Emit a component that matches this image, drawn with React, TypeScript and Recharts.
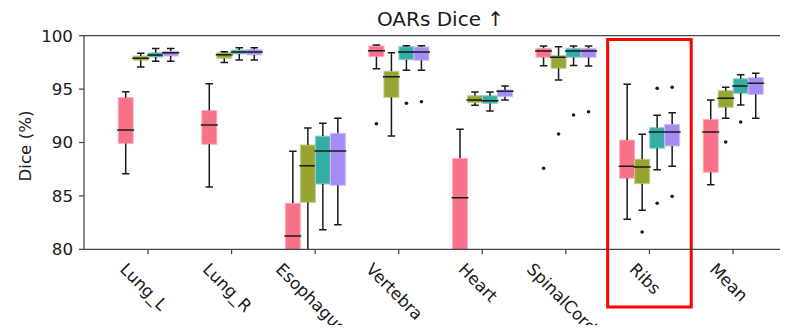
import { Bar, ComposedChart, ReferenceArea, ReferenceLine, XAxis, YAxis } from "recharts"

// organ categories
const organs = ["Lung_L", "Lung_R", "Esophagus", "Vertebra", "Heart", "SpinalCord", "Ribs", "Mean"]

// box stats per organ: [whisker low, q1, median, q3, whisker high]
const pinkStats = [
  [87.08, 89.9, 91.17, 94.2, 94.76],
  [85.83, 89.83, 91.64, 93.0, 95.5],
  [75.0, 78.0, 81.25, 84.31, 89.18],
  [96.91, 98.03, 98.6, 99.04, 99.13],
  [74.0, 78.5, 84.83, 88.52, 91.24],
  [97.19, 97.98, 98.57, 98.82, 99.04],
  [82.81, 86.65, 87.77, 90.23, 95.45],
  [86.05, 87.21, 90.98, 92.17, 93.98],
]
const oliveStats = [
  [97.07, 97.7, 97.9, 98.1, 98.35],
  [97.5, 97.9, 98.22, 98.4, 98.5],
  [78.0, 84.4, 87.83, 89.77, 91.36],
  [90.61, 94.23, 96.16, 96.67, 98.41],
  [93.48, 93.73, 93.98, 94.38, 94.73],
  [95.85, 96.95, 97.98, 98.13, 98.97],
  [83.65, 86.14, 87.71, 88.43, 90.77],
  [92.27, 93.3, 94.14, 94.85, 95.17],
]
const tealStats = [
  [97.6, 98.0, 98.2, 98.4, 98.8],
  [97.72, 98.29, 98.47, 98.66, 98.88],
  [81.84, 86.11, 89.2, 90.6, 91.8],
  [96.76, 97.75, 98.47, 98.97, 99.06],
  [92.95, 93.67, 93.92, 94.38, 94.73],
  [97.22, 97.98, 98.57, 98.82, 99.04],
  [87.45, 89.46, 90.98, 91.39, 92.55],
  [93.51, 94.6, 95.29, 95.97, 96.35],
]
const purpleStats = [
  [97.6, 98.1, 98.4, 98.54, 98.8],
  [97.72, 98.2, 98.47, 98.7, 98.88],
  [82.3, 85.99, 89.2, 90.86, 92.27],
  [96.76, 97.7, 98.47, 98.94, 99.06],
  [93.98, 94.29, 94.8, 94.92, 95.29],
  [97.16, 97.98, 98.57, 98.82, 99.04],
  [87.77, 89.67, 90.98, 91.7, 92.79],
  [92.27, 94.51, 95.54, 96.07, 96.48],
]

// outliers per organ
const pinkFliers = [[], [], [], [91.76], [], [87.58], [], []]
const oliveFliers = [[], [], [], [], [], [90.8], [81.62], [90.05]]
const tealFliers = [[], [], [], [93.67], [], [92.57], [95.07, 84.31], [91.92]]
const purpleFliers = [[], [], [], [93.82], [], [92.88], [95.17, 84.96], []]

const yTicks = [80, 85, 90, 95, 100]

const series = [
  { key: "pink", color: "#f77189", edge: "#fbb0bd", stats: pinkStats, fliers: pinkFliers },
  { key: "olive", color: "#97a431", edge: "#c6cd8e", stats: oliveStats, fliers: oliveFliers },
  { key: "teal", color: "#36ada4", edge: "#8fd2cc", stats: tealStats, fliers: tealFliers },
  { key: "purple", color: "#a48cf4", edge: "#cbbdf8", stats: purpleStats, fliers: purpleFliers },
]

const data = organs.map((name, i) => {
  const row: any = { name }
  series.forEach((s) => {
    const st = s.stats[i]
    row[s.key] = [st[0], st[4]]
    row[s.key + "Stats"] = st
    row[s.key + "Fliers"] = s.fliers[i]
  })
  return row
})

const FONT = "DejaVu Sans"
const INK = "#1a1a1a"
const SPINE = "#444"

const measure = (s: string, size: number) => {
  try {
    const ctx = document.createElement("canvas").getContext("2d")
    if (ctx) {
      ctx.font = `${size}px "${FONT}"`
      return ctx.measureText(s).width
    }
  } catch (e) {}
  return s.length * size * 0.6
}

const boxShape = (key: string, color: string, edge: string) => (props: any) => {
  const { x, y, width, height, payload } = props
  const [lo, q1, med, q3, hi] = payload[key + "Stats"]
  const fliers: number[] = payload[key + "Fliers"] || []
  const top = Math.min(y, y + height)
  const bottom = Math.max(y, y + height)
  // bar spans [lo, hi], so map other values along the same scale
  const py = (v: number) => top + ((hi - v) / (hi - lo)) * (bottom - top)
  const cx = x + width / 2
  const cap = width / 4
  const lw = 1.5
  return (
    <g>
      <rect x={x} y={py(q3)} width={width} height={py(q1) - py(q3)} fill={color} stroke={edge} strokeWidth={1} />
      <line x1={cx} x2={cx} y1={py(hi)} y2={py(q3)} stroke={INK} strokeWidth={lw} />
      <line x1={cx} x2={cx} y1={py(q1)} y2={py(lo)} stroke={INK} strokeWidth={lw} />
      <line x1={cx - cap} x2={cx + cap} y1={py(hi)} y2={py(hi)} stroke={INK} strokeWidth={lw} />
      <line x1={cx - cap} x2={cx + cap} y1={py(lo)} y2={py(lo)} stroke={INK} strokeWidth={lw} />
      <line x1={x - 1} x2={x + width + 1} y1={py(med)} y2={py(med)} stroke={INK} strokeWidth={lw} />
      {fliers.map((f, i) => (
        <circle key={i} cx={cx} cy={py(f)} r={1.8} fill={INK} />
      ))}
    </g>
  )
}

const XTick = (props: any) => {
  const { x, y, payload } = props
  const label = String(payload.value)
  const size = 16.7
  const L = measure(label, size)
  const sx = x - 0.3535 * L - 8.3
  const sy = y + 16
  return (
    <text x={sx} y={sy} transform={`rotate(45 ${sx} ${sy})`} fontSize={size} fontFamily={FONT} fill={INK} textAnchor="start">
      {label}
    </text>
  )
}

export default function App() {
  return (
    <div style={{ margin: -8, width: 788, height: 333, overflow: "hidden", position: "relative", background: "#fff" }}>
      <ComposedChart
        width={800}
        height={333}
        data={data}
        barSize={15}
        barGap={0}
        margin={{ top: 35.7, right: 3, bottom: 0, left: 0 }}
        style={{ fontFamily: FONT }}
      >
        <XAxis
          dataKey="name"
          type="category"
          interval={0}
          height={83.7}
          padding={{ left: 22.2, right: 22.2 }}
          tickSize={5}
          tickMargin={0}
          tick={<XTick />}
          axisLine={{ stroke: SPINE, strokeWidth: 1.25 }}
          tickLine={{ stroke: SPINE, strokeWidth: 1.25 }}
        />
        <YAxis
          type="number"
          domain={[80, 100]}
          ticks={yTicks}
          allowDataOverflow
          width={84}
          tickSize={5}
          tickMargin={6}
          tick={{ fontSize: 16.7, fill: INK, fontFamily: FONT }}
          axisLine={{ stroke: SPINE, strokeWidth: 1.25 }}
          tickLine={{ stroke: SPINE, strokeWidth: 1.25 }}
        />
        <ReferenceLine y={100} stroke={SPINE} strokeWidth={1.25} />
        {series.map((s) => (
          <Bar
            key={s.key}
            dataKey={s.key}
            fill={s.color}
            isAnimationActive={false}
            shape={boxShape(s.key, s.color, s.edge)}
          />
        ))}
        <ReferenceArea
          x1="Ribs"
          x2="Ribs"
          y1={74.6}
          y2={99.65}
          ifOverflow="visible"
          fill="none"
          fillOpacity={0}
          stroke="#ff0000"
          strokeWidth={3}
        />
        <text x={440.5} y={25.5} textAnchor="middle" fontSize={20} fontFamily={FONT} fill={INK}>
          OARs Dice ↑
        </text>
        <text x={31} y={146} transform="rotate(-90 31 146)" textAnchor="middle" fontSize={16.7} fontFamily={FONT} fill={INK}>
          Dice (%)
        </text>
      </ComposedChart>
    </div>
  )
}
